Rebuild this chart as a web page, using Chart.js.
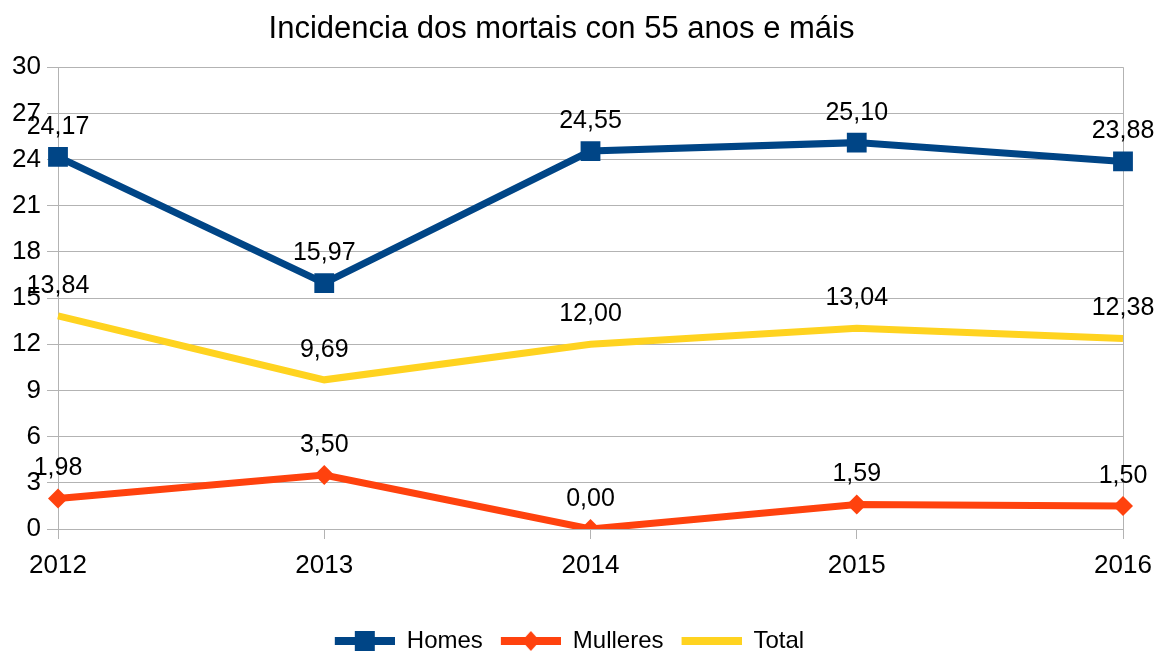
<!DOCTYPE html>
<html>
<head>
<meta charset="utf-8">
<script src="https://cdn.jsdelivr.net/npm/chart.js@4/dist/chart.umd.min.js"></script>
<style>
  html, body { margin: 0; padding: 0; background: #fff; }
  #wrap { width: 1158px; height: 651px; }
</style>
</head>
<body>
<div id="wrap"><canvas id="chart" width="1158" height="651"></canvas></div>
<script>
const years = ["2012", "2013", "2014", "2015", "2016"];
const homes = [24.17, 15.97, 24.55, 25.10, 23.88];
const mulleres = [1.98, 3.50, 0.00, 1.59, 1.50];
const total = [13.84, 9.69, 12.00, 13.04, 12.38];
const yTicks = [0, 3, 6, 9, 12, 15, 18, 21, 24, 27, 30];

const FONT = "'Liberation Sans', Arial, sans-serif";
const gridGray = "#b3b3b3";

// small canvas used as legend symbol: line with marker (16px blank on the left as item gap)
function legendSymbol(color, marker) {
  const c = document.createElement("canvas");
  c.width = 76; c.height = 22;
  const g = c.getContext("2d");
  g.fillStyle = color;
  g.fillRect(16, 7, 60, 8);
  if (marker === "rect") {
    g.fillRect(36, 1, 20, 20);
  } else if (marker === "diamond") {
    g.beginPath();
    g.moveTo(46, 1); g.lineTo(55, 11); g.lineTo(46, 21); g.lineTo(37, 11);
    g.closePath(); g.fill();
  }
  return c;
}

const symbols = [
  legendSymbol("#004586", "rect"),
  legendSymbol("#ff420e", "diamond"),
  legendSymbol("#ffd320", null),
];

// draw the value labels above each point
const valueLabels = {
  id: "valueLabels",
  afterDatasetsDraw(chart) {
    const ctx = chart.ctx;
    ctx.save();
    ctx.font = "25px " + FONT;
    ctx.fillStyle = "#000";
    ctx.textAlign = "center";
    ctx.textBaseline = "middle";
    chart.data.datasets.forEach((ds, i) => {
      chart.getDatasetMeta(i).data.forEach((pt, j) => {
        const txt = ds.data[j].toFixed(2).replace(".", ",");
        ctx.fillText(txt, pt.x, pt.y - 30);
      });
    });
    ctx.restore();
  }
};

new Chart(document.getElementById("chart"), {
  type: "line",
  data: {
    labels: years,
    datasets: [
      {
        label: "Homes",
        data: homes,
        borderColor: "#004586",
        backgroundColor: "#004586",
        borderWidth: 7,
        pointStyle: "rect",
        pointRadius: 14,
        pointHoverRadius: 14,
        pointBorderWidth: 0,
        tension: 0,
      },
      {
        label: "Mulleres",
        data: mulleres,
        borderColor: "#ff420e",
        backgroundColor: "#ff420e",
        borderWidth: 7,
        pointStyle: "rectRot",
        pointRadius: 10,
        pointHoverRadius: 10,
        pointBorderWidth: 0,
        tension: 0,
      },
      {
        label: "Total",
        data: total,
        borderColor: "#ffd320",
        backgroundColor: "#ffd320",
        borderWidth: 7,
        pointRadius: 0,
        pointHoverRadius: 0,
        tension: 0,
      },
    ],
  },
  options: {
    responsive: false,
    animation: false,
    layout: { padding: { left: 0, right: 35, top: 0, bottom: -12 } },
    scales: {
      x: {
        offset: false,
        grid: {
          color: (c) => (c.index === 0 || c.index === years.length - 1) ? gridGray : "rgba(0,0,0,0)",
          tickColor: gridGray,
          tickLength: 10,
          lineWidth: 1,
        },
        border: { display: false },
        ticks: {
          color: "#000",
          font: { family: FONT, size: 26 },
          padding: 11,
          maxRotation: 0,
        },
        afterFit(scale) {
          scale.height = 98;
          scale.paddingLeft = 0;
          scale.paddingRight = 0;
        },
      },
      y: {
        min: 0,
        max: 30,
        afterBuildTicks(scale) { scale.ticks = yTicks.map(v => ({ value: v })); },
        grid: {
          color: gridGray,
          tickColor: gridGray,
          tickLength: 11,
          lineWidth: 1,
        },
        border: { color: gridGray },
        ticks: {
          color: "#000",
          font: { family: FONT, size: 26 },
          padding: 6,
        },
        afterFit(scale) { scale.width = 58; },
      },
    },
    plugins: {
      title: {
        display: true,
        text: "Incidencia dos mortais con 55 anos e máis",
        color: "#000",
        font: { family: FONT, size: 31, weight: "normal" },
        padding: { top: 11, bottom: 19 },
      },
      legend: {
        position: "bottom",
        labels: {
          color: "#000",
          font: { family: FONT, size: 24 },
          usePointStyle: true,
          pointStyleWidth: 76,
          padding: 2,
          generateLabels(chart) {
            return chart.data.datasets.map((ds, i) => ({
              text: ds.label,
              pointStyle: symbols[i],
              fillStyle: ds.borderColor,
              strokeStyle: ds.borderColor,
              lineWidth: 0,
              hidden: false,
              datasetIndex: i,
              fontColor: "#000",
            }));
          },
        },
      },
      tooltip: { enabled: false },
    },
  },
  plugins: [valueLabels],
});
</script>
</body>
</html>
